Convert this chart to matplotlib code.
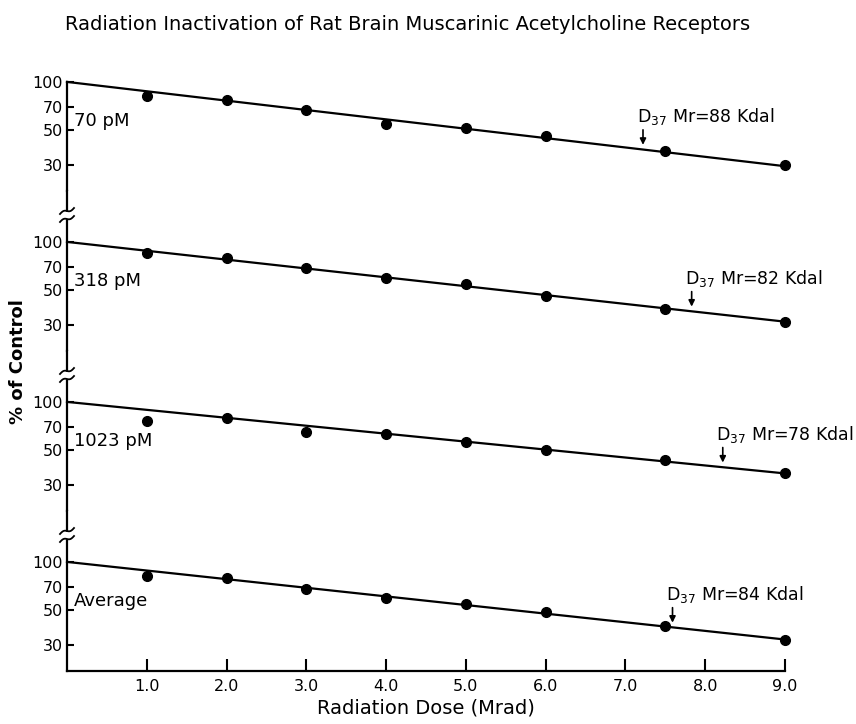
import numpy as np
import matplotlib
matplotlib.use('Agg')
import matplotlib.pyplot as plt

# data
dose = [1.0, 2.0, 3.0, 4.0, 5.0, 6.0, 7.5, 9.0]
panel_labels = ['70 pM', '318 pM', '1023 pM', 'Average']
pm70 = [81, 77, 67, 54, 51, 46, 36.5, 30]
pm318 = [85, 79, 69, 59, 54, 46, 38, 31.5]
pm1023 = [76, 79, 64.5, 62.5, 56, 50, 43, 35.5]
average = [81.5, 79, 67.5, 59, 54.5, 48.5, 39.5, 32.5]
fit_end = [29.5, 31.5, 35.5, 32.5]      # fitted line value at 9.0 Mrad (starts at 100)
d37_dose = [7.22, 7.83, 8.22, 7.59]
mr_kdal = ['88', '82', '78', '84']
yticks = [100, 70, 50, 30]
xticks = [1, 2, 3, 4, 5, 6, 7, 8, 9]

series = [pm70, pm318, pm1023, average]

W, H = 856, 724
fig = plt.figure(figsize=(W / 100, H / 100), dpi=100)
plt.rcParams['font.family'] = ['DejaVu Sans']

left_px, right_px = 67, 785
bottom_px = 671
panel_h = 160
ylo, yhi = 20.6, 209

axes = []
for i in range(4):
    top = bottom_px - panel_h * (4 - i)
    ax = fig.add_axes([left_px / W, (H - top - panel_h) / H,
                       (right_px - left_px) / W, panel_h / H])
    axes.append(ax)

for i, ax in enumerate(axes):
    vals = series[i]
    ax.set_yscale('log')
    ax.set_ylim(ylo, yhi)
    ax.set_xlim(0, 9.0)

    # fitted line
    xs = np.linspace(0, 9.0, 50)
    k = np.log(fit_end[i] / 100) / 9.0
    ax.plot(xs, 100 * np.exp(k * xs), color='black', lw=1.6, clip_on=False)
    ax.plot(dose, vals, 'o', color='black', ms=7, clip_on=False)

    # D37 arrow and label
    xa = d37_dose[i]
    yl = 100 * np.exp(k * xa)
    ax.annotate('', xy=(xa, yl * 1.07), xytext=(xa, yl * 1.33),
                arrowprops=dict(arrowstyle='-|>', color='black', lw=1.2,
                                mutation_scale=9, shrinkA=0, shrinkB=0))
    ax.text(xa - 0.08, yl * 1.38, r'D$_{37}$ Mr=' + mr_kdal[i] + ' Kdal',
            fontsize=12.5, ha='left', va='bottom')

    ax.text(0.09, 57, panel_labels[i], fontsize=13, ha='left', va='center')

    ax.set_yticks(yticks)
    ax.set_yticklabels([str(t) for t in yticks], fontsize=11.5)
    ax.minorticks_off()
    ax.tick_params(axis='y', direction='in', length=5, width=1.5, pad=3)

    ax.spines['top'].set_visible(False)
    ax.spines['right'].set_visible(False)
    ax.spines['left'].set_linewidth(1.6)
    if i == 0:
        ax.spines['left'].set_bounds(ylo, 100)
    if i < 3:
        ax.spines['bottom'].set_visible(False)
        ax.set_xticks([])
    else:
        ax.spines['bottom'].set_linewidth(1.6)
        ax.set_xticks(xticks)
        ax.set_xticklabels(['%.1f' % t for t in xticks], fontsize=11.5)
        ax.tick_params(axis='x', direction='in', length=9, width=1.5, pad=6)
        ax.set_xlabel('Radiation Dose (Mrad)', fontsize=14, labelpad=3)

# axis breaks on the left spine
for yb in [215, 375, 535]:
    fig.patches.append(plt.Rectangle(((left_px - 4) / W, (H - yb - 3) / H), 8 / W, 6 / H,
                                     transform=fig.transFigure, color='white', zorder=5))
    t = np.linspace(-1, 1, 20)
    for off in (-4, 4):
        xp = left_px + 7 * t
        yp = yb + off - 3 * t + 1.5 * np.sin(np.pi * t)
        fig.add_artist(plt.Line2D(xp / W, (H - yp) / H, color='black', lw=1.3,
                                  transform=fig.transFigure, zorder=6))

fig.text(18 / W, 0.5, '% of Control', rotation=90, fontsize=13,
         ha='center', va='center', fontweight='bold')
fig.text(408 / W, (H - 25) / H,
         'Radiation Inactivation of Rat Brain Muscarinic Acetylcholine Receptors',
         fontsize=14, ha='center', va='center')

fig.savefig('out.png', dpi=100)
